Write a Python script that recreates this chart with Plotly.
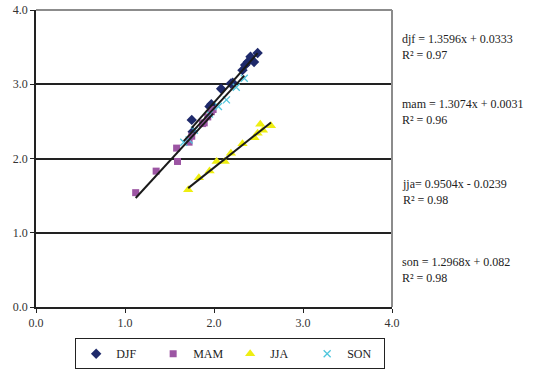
import plotly.graph_objects as go

# ---- data ----
djf_x = [1.75, 1.76, 1.95, 1.97, 2.08, 2.19, 2.21, 2.32, 2.35, 2.38, 2.41, 2.45, 2.49]
djf_y = [2.52, 2.36, 2.70, 2.73, 2.94, 3.01, 3.02, 3.19, 3.26, 3.30, 3.37, 3.30, 3.42]

mam_x = [1.12, 1.35, 1.59, 1.58, 1.72, 1.75, 1.87, 1.89, 1.93, 1.97, 1.99]
mam_y = [1.54, 1.83, 1.96, 2.14, 2.22, 2.30, 2.47, 2.48, 2.56, 2.63, 2.66]

jja_x = [1.71, 1.83, 1.95, 2.03, 2.12, 2.19, 2.32, 2.455, 2.49, 2.52, 2.55, 2.64]
jja_y = [1.58, 1.74, 1.83, 1.96, 1.96, 2.07, 2.20, 2.28, 2.34, 2.46, 2.38, 2.44]

son_x = [1.66, 1.72, 1.78, 1.95, 2.05, 2.14, 2.25, 2.34]
son_y = [2.22, 2.25, 2.38, 2.60, 2.70, 2.79, 2.96, 3.08]

fits = {  # slope, intercept, label text
    "djf": (1.3596, 0.0333, "djf = 1.3596x + 0.0333<br>R² = 0.97"),
    "mam": (1.3074, 0.0031, "mam = 1.3074x + 0.0031<br>R² = 0.96"),
    "jja": (0.9504, -0.0239, "jja= 0.9504x - 0.0239<br>R² = 0.98"),
    "son": (1.2968, 0.082, "son = 1.2968x + 0.082<br>R² = 0.98"),
}
label_y = {"djf": 0.874, "mam": 0.657, "jja": 0.386, "son": 0.126}

x_ticks = [0, 1, 2, 3, 4]
y_ticks = [0, 1, 2, 3, 4]

FONT = "Liberation Serif, Times New Roman, serif"

series = [
    ("DJF", "djf", djf_x, djf_y, dict(symbol="diamond", size=8, color="#1f2a6b")),
    ("MAM", "mam", mam_x, mam_y, dict(symbol="square", size=7, color="#9c55a3")),
    ("JJA", "jja", jja_x, jja_y, dict(symbol="triangle-up", size=9, color="#eeee11")),
    ("SON", "son", son_x, son_y, dict(symbol="x-thin", size=7, color="#4fc6dc",
                                      line=dict(width=1.3, color="#4fc6dc"))),
]

fig = go.Figure()

for name, key, xs, ys, mk in series:
    fig.add_trace(go.Scatter(x=xs, y=ys, mode="markers", name=name, marker=mk,
                             cliponaxis=False))

for name, key, xs, ys, mk in series:
    a, b, _ = fits[key]
    x0, x1 = min(xs), max(xs)
    fig.add_trace(go.Scatter(x=[x0, x1], y=[a * x0 + b, a * x1 + b], mode="lines",
                             line=dict(color="#1a1a1a", width=2), showlegend=False,
                             hoverinfo="skip"))

for key, (a, b, txt) in fits.items():
    fig.add_annotation(text=txt, xref="paper", yref="paper", x=1.022, y=label_y[key],
                       xanchor="left", yanchor="middle", align="left", showarrow=False,
                       font=dict(family=FONT, size=12, color="#222"))

# gray top and right border of plot area
fig.add_shape(type="line", xref="paper", yref="paper", x0=0, x1=1, y0=1, y1=1,
              line=dict(color="#8c8c8c", width=2))
fig.add_shape(type="line", xref="paper", yref="paper", x0=1, x1=1, y0=0, y1=1,
              line=dict(color="#8c8c8c", width=2))

fig.update_xaxes(range=[0, 4], tickvals=x_ticks, tickformat=".1f", showgrid=False,
                 showline=True, linecolor="#222", linewidth=1.5, ticks="outside",
                 ticklen=4, tickcolor="#222", zeroline=False,
                 tickfont=dict(family=FONT, size=12, color="#333"))
fig.update_yaxes(range=[0, 4], tickvals=y_ticks, tickformat=".1f", showgrid=True,
                 gridcolor="#222", gridwidth=1.5, showline=True, linecolor="#222",
                 linewidth=1.5, ticks="outside", ticklen=4, tickcolor="#222",
                 zeroline=False, tickfont=dict(family=FONT, size=12, color="#333"))

fig.update_layout(
    width=541, height=371,
    margin=dict(l=36, r=149, t=10, b=64, autoexpand=False),
    plot_bgcolor="white", paper_bgcolor="white",
    showlegend=True,
    legend=dict(orientation="h", x=0.11, y=-0.105, xanchor="left", yanchor="top",
                bordercolor="#222", borderwidth=1, bgcolor="white",
                font=dict(family=FONT, size=12, color="#222"),
                entrywidth=32, entrywidthmode="pixels", itemwidth=30,
                tracegroupgap=0),
)

fig.write_html("out.html")
